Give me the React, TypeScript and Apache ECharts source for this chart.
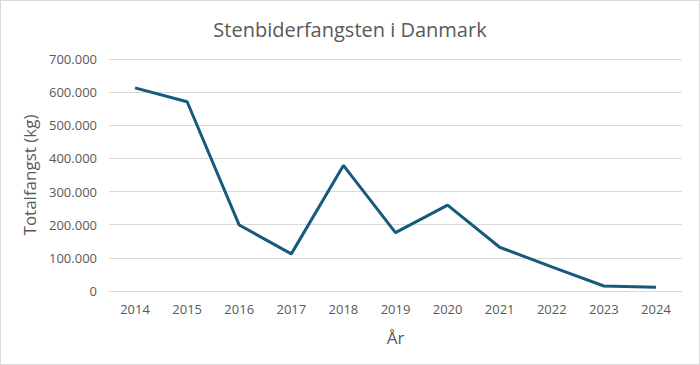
import React, { useEffect, useRef } from "react";
import * as echarts from "echarts";

const years = ["2014", "2015", "2016", "2017", "2018", "2019", "2020", "2021", "2022", "2023", "2024"];
const catchKg = [613000, 571000, 199000, 112000, 379000, 176000, 259000, 132000, 73000, 15000, 11000];
const titleText = "Stenbiderfangsten i Danmark";
const yAxisName = "Totalfangst (kg)";
const xAxisName = "År";

const fmt = (v: number) => {
  if (v === 0) return "0";
  return Math.round(v).toString().replace(/\B(?=(\d{3})+(?!\d))/g, ".");
};

export default function App() {
  const ref = useRef<HTMLDivElement>(null);
  useEffect(() => {
    document.body.style.margin = "0";
    const chart = echarts.init(ref.current!, null, { renderer: "svg" });
    const font = "'Open Sans', sans-serif";
    chart.setOption({
      animation: false,
      backgroundColor: "#ffffff",
      title: {
        text: titleText,
        left: "center",
        top: 13,
        textStyle: { fontFamily: font, fontSize: 20, fontWeight: "normal", color: "#595959" },
      },
      grid: { left: 108, right: 17, top: 58, bottom: 73 },
      xAxis: {
        type: "category",
        data: years,
        boundaryGap: true,
        name: xAxisName,
        nameLocation: "middle",
        nameGap: 38,
        nameTextStyle: { fontFamily: font, fontSize: 17, color: "#595959" },
        axisLine: { show: true, lineStyle: { color: "#d9d9d9", width: 1 } },
        axisTick: { show: false },
        axisLabel: { fontFamily: font, fontSize: 13, color: "#595959", margin: 11 },
      },
      yAxis: {
        type: "value",
        min: 0,
        max: 700000,
        interval: 100000,
        name: yAxisName,
        nameLocation: "middle",
        nameGap: 70,
        nameTextStyle: { fontFamily: font, fontSize: 17, color: "#595959" },
        axisLine: { show: false },
        axisTick: { show: false },
        axisLabel: { fontFamily: font, fontSize: 13, color: "#595959", margin: 12, formatter: fmt },
        splitLine: { lineStyle: { color: "#d9d9d9", width: 1 } },
      },
      series: [
        {
          type: "line",
          data: catchKg,
          symbol: "none",
          lineStyle: { color: "#165a7c", width: 3 },
        },
      ],
    });
    return () => chart.dispose();
  }, []);
  return (
    <div
      style={{
        position: "absolute",
        left: 0,
        top: 0,
        width: 700,
        height: 365,
        boxSizing: "border-box",
        border: "1px solid #d9d9d9",
      }}
    >
      <div ref={ref} style={{ width: 698, height: 363 }} />
    </div>
  );
}
